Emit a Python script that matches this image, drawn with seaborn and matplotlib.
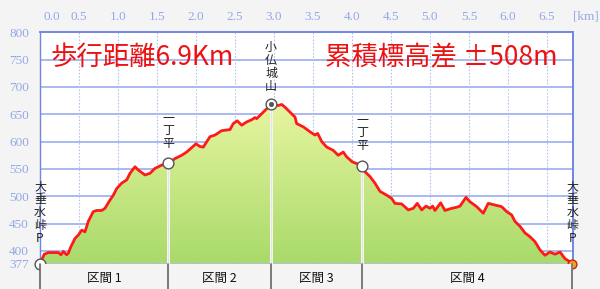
import numpy as np
import pandas as pd
import matplotlib
matplotlib.use("Agg")
import matplotlib.pyplot as plt
import matplotlib.transforms as mtransforms
from matplotlib.colors import LinearSegmentedColormap
import seaborn as sns

# ---------------- data ----------------
dist_km = [0.000, 0.055, 0.106, 0.235, 0.269, 0.299, 0.342, 0.363, 0.397, 0.449,
           0.491, 0.535, 0.577, 0.619, 0.683, 0.727, 0.791, 0.833, 0.897, 0.940,
           0.983, 1.047, 1.112, 1.154, 1.218, 1.260, 1.346, 1.410, 1.474, 1.560,
           1.645, 1.731, 1.817, 1.881, 1.945, 2.000, 2.051, 2.094, 2.179, 2.244,
           2.329, 2.436, 2.478, 2.529, 2.586, 2.650, 2.714, 2.756, 2.778, 2.842,
           2.906, 2.962, 3.055, 3.099, 3.141, 3.205, 3.269, 3.291, 3.376, 3.462,
           3.526, 3.560, 3.612, 3.676, 3.760, 3.824, 3.888, 3.932, 4.004, 4.128,
           4.167, 4.231, 4.295, 4.359, 4.445, 4.509, 4.551, 4.637, 4.722, 4.786,
           4.837, 4.894, 4.949, 5.000, 5.035, 5.064, 5.137, 5.192, 5.256, 5.342,
           5.385, 5.462, 5.513, 5.599, 5.683, 5.747, 5.833, 5.919, 5.983, 6.047,
           6.090, 6.154, 6.218, 6.282, 6.346, 6.410, 6.474, 6.538, 6.603, 6.667,
           6.731, 6.795, 6.827]
elev_m = [377, 394, 397, 397, 393, 399, 393, 396, 408, 423,
          429, 438, 435, 454, 472, 474, 474, 478, 493, 502,
          514, 524, 530, 542, 554, 548, 539, 542, 551, 557,
          560, 569, 575, 581, 589, 596, 591, 590, 609, 612,
          620, 622, 633, 638, 630, 636, 640, 644, 642, 651,
          660, 668, 666, 668, 663, 654, 645, 633, 627, 618,
          612, 615, 600, 590, 584, 575, 581, 572, 563, 556,
          545, 536, 524, 509, 502, 496, 487, 486, 475, 478,
          487, 475, 482, 478, 482, 474, 488, 474, 477, 480,
          482, 498, 490, 481, 469, 487, 484, 481, 472, 466,
          454, 445, 433, 426, 417, 402, 392, 398, 394, 398,
          386, 380, 377]

wp_names = ["大垂水峠P", "一丁平", "小仏城山", "一丁平", "大垂水峠P"]
wp_km = [0.0, 1.645, 2.962, 4.128, 6.827]
wp_elev = [377, 560, 668, 556, 377]
wp_offset = [13, 10, 8, 10, 13]

section_labels = ["区間 1", "区間 2", "区間 3", "区間 4"]
section_bounds = [0.0, 1.645, 2.962, 4.128, 6.827]

x_ticks = [0.0, 0.5, 1.0, 1.5, 2.0, 2.5, 3.0, 3.5, 4.0, 4.5, 5.0, 5.5, 6.0, 6.5]
x_ticklabels = ["0.0", "0.5", "1.0", "1.5", "2.0", "2.5", "3.0", "3.5",
                "4.0", "4.5", "5.0", "5.5", "6.0", "6.5"]
y_ticks = [377, 400, 450, 500, 550, 600, 650, 700, 750, 800]
y_ticklabels = ["377", "400", "450", "500", "550", "600", "650", "700", "750", "800"]

title_left = "歩行距離6.9Km"
title_right = "累積標高差 ±508m"

# ---------------- style ----------------
sns.set_theme(style="white")
plt.rcParams['font.family'] = ['Noto Sans CJK JP', 'DejaVu Sans']

BG = "#f4f4f4"
TICK_C = "#93a9e6"
GRID_H = "#a9b9f0"
GRID_V = "#b3c3ea"
SPINE_C = "#7086e4"

W, H = 600, 289
fig = plt.figure(figsize=(W / 100, H / 100), dpi=100, facecolor=BG)
L, R, T, B = 40, 572.7, 32.3, 263.5
ax = fig.add_axes([L / W, 1 - B / H, (R - L) / W, (B - T) / H])
ax.set_facecolor("white")

XMAX = 6.83
ax.set_xlim(0, XMAX)
ax.set_ylim(377, 800)

df = pd.DataFrame({"km": dist_km, "m": elev_m})

# grid
for yv in y_ticks[1:-1]:
    ax.axhline(yv, color=GRID_H, lw=1.4, zorder=1)
for xv in x_ticks[1:]:
    ax.axvline(xv, color=GRID_V, lw=0.8, ls=(0, (1.5, 1.5)), zorder=1)

# gradient fill
poly = ax.fill_between(df["km"], df["m"], 377, color="none", zorder=2)
cmap = LinearSegmentedColormap.from_list("g", ["#a9da6a", "#e9f6a2"])
grad = np.linspace(0, 1, 256).reshape(-1, 1)
im = ax.imshow(grad, cmap=cmap, aspect="auto", origin="lower",
               extent=[0, XMAX, 377, 680], zorder=2)
im.set_clip_path(poly.get_paths()[0], transform=ax.transData)
ax.set_xlim(0, XMAX)
ax.set_ylim(377, 800)

# waypoint vertical lines
for k, e in zip(wp_km[1:-1], wp_elev[1:-1]):
    ax.plot([k, k], [377, e], color="#f4f4f4", lw=2.2, zorder=3)
    ax.plot([k, k], [377, e], color="#d8d8d8", lw=0.4, zorder=3)

# profile line
sns.lineplot(data=df, x="km", y="m", color="#ff1a1a", lw=2.0, ax=ax, zorder=4)

# markers
ax.scatter(wp_km[:-1], wp_elev[:-1], s=60, facecolor="white",
           edgecolor="#555555", lw=1.0, zorder=6, clip_on=False)
ax.scatter([wp_km[2]], [wp_elev[2]], s=10, facecolor="#555555",
           edgecolor="#555555", lw=0.5, zorder=7, clip_on=False)
ax.scatter([wp_km[-1]], [wp_elev[-1]], s=40, marker="o", facecolor="#f0a030",
           edgecolor="#cc2200", lw=1.0, zorder=6, clip_on=False)

# waypoint labels (vertical)
for name, k, e, off in zip(wp_names, wp_km, wp_elev, wp_offset):
    ax.annotate("\n".join(list(name)), xy=(k, e), xytext=(0, off),
                textcoords="offset points", ha="center", va="bottom",
                fontsize=8.6, linespacing=1.0, color="#222222",
                zorder=8, annotation_clip=False)

# titles
ax.text(0.02, 0.89, title_left, transform=ax.transAxes, color="#ee1111",
        fontsize=19, ha="left", va="center", zorder=8)
ax.text(0.535, 0.89, title_right, transform=ax.transAxes, color="#ee1111",
        fontsize=19, ha="left", va="center", zorder=8)

# ticks
ax.xaxis.tick_top()
ax.set_xticks(x_ticks)
ax.set_xticklabels(x_ticklabels, family="Liberation Serif", fontsize=9.5, color=TICK_C)
ax.set_yticks(y_ticks)
ax.set_yticklabels(y_ticklabels, family="Liberation Serif", fontsize=9.5, color=TICK_C)
ax.tick_params(axis="x", length=0, pad=7)
ax.tick_params(axis="y", length=0, pad=8)
lbl0 = ax.get_xticklabels()[0]
lbl0.set_transform(lbl0.get_transform() +
                   mtransforms.ScaledTranslation(12 / 100, 0, fig.dpi_scale_trans))
ax.text(1.0, 1.0, "[km]", transform=ax.transAxes + mtransforms.ScaledTranslation(
    13 / 100, 7 / 72, fig.dpi_scale_trans), family="Liberation Serif",
    fontsize=9.5, color=TICK_C, ha="center", va="bottom")
ax.set_xlabel("")
ax.set_ylabel("")

for s in ["top", "left", "right"]:
    ax.spines[s].set_visible(True)
    ax.spines[s].set_color(SPINE_C)
    ax.spines[s].set_linewidth(1.4)
ax.spines["left"].set_linewidth(1.0)
ax.spines["bottom"].set_color("#a8b0d0")
ax.spines["bottom"].set_linewidth(1.2)

# section bar
sax = fig.add_axes([L / W, 0, (R - L) / W, (H - B) / H])
sax.set_facecolor(BG)
sax.set_xlim(0, XMAX)
sax.set_ylim(0, 1)
for s in sax.spines.values():
    s.set_visible(False)
sax.set_xticks([])
sax.set_yticks([])
for b in section_bounds:
    sax.axvline(b, color="#666666", lw=1.2, clip_on=False)
for i, lab in enumerate(section_labels):
    mid = (section_bounds[i] + section_bounds[i + 1]) / 2
    sax.text(mid, 0.42, lab, ha="center", va="center", fontsize=9, color="#111111")

fig.savefig("out.png", dpi=100, facecolor=BG)
